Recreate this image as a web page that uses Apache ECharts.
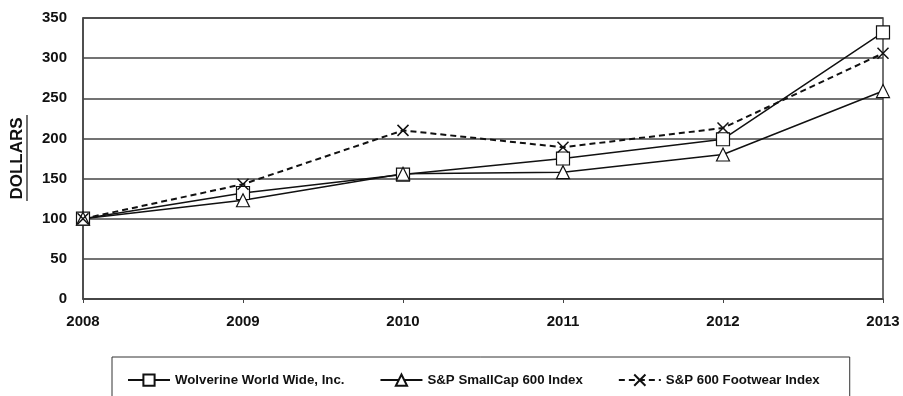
<!DOCTYPE html>
<html>
<head>
<meta charset="utf-8">
<script src="https://cdn.jsdelivr.net/npm/echarts@6/dist/echarts.min.js"></script>
<style>
html,body{margin:0;padding:0;background:#fff;}
#chart{width:903px;height:396px;}
</style>
</head>
<body>
<div id="chart"></div>
<script>
var years=['2008','2009','2010','2011','2012','2013'];
var wolverine=[100,132,155,175,199,332];
var smallCap=[100,123,156,158,180,259];
var footwear=[100,143,210,189,213,306];
var yTicks={min:0,max:350,interval:50};

var xPath='path://M0,0L10,10M10,0L0,10';
var font='Liberation Sans';

var chart=echarts.init(document.getElementById('chart'));
var option={
	animation:false,
	backgroundColor:'#fff',
	grid:{
		left:83,right:20,top:18,bottom:97,
		show:true,borderColor:'#444',borderWidth:1.5
	},
	legend:{
		left:112,top:357,
		padding:[15,30,10,15],
		borderColor:'#333',borderWidth:1,
		itemWidth:42,itemHeight:14,itemGap:35,
		textStyle:{fontFamily:font,fontWeight:'bold',fontSize:13.25,color:'#111'},
		data:['Wolverine World Wide, Inc.','S&P SmallCap 600 Index','S&P 600 Footwear Index']
	},
	xAxis:{
		type:'category',
		data:years,
		boundaryGap:false,
		axisLine:{lineStyle:{color:'#444',width:1.5}},
		axisTick:{show:true,length:4,lineStyle:{color:'#444'}},
		axisLabel:{fontFamily:font,fontWeight:'bold',fontSize:15,color:'#111',margin:15}
	},
	yAxis:{
		type:'value',
		min:yTicks.min,max:yTicks.max,interval:yTicks.interval,
		name:'DOLLARS',
		nameLocation:'middle',
		nameGap:57,
		nameTextStyle:{fontFamily:font,fontWeight:'bold',fontSize:17,color:'#111'},
		axisLine:{show:true,lineStyle:{color:'#444',width:1.5}},
		axisTick:{show:false},
		axisLabel:{fontFamily:font,fontWeight:'bold',fontSize:15,color:'#111',margin:16},
		splitLine:{lineStyle:{color:'#444',width:1.5}}
	},
	graphic:[{
		type:'line',
		shape:{x1:27,y1:115,x2:27,y2:201},
		style:{stroke:'#111',lineWidth:1.2}
	}],
	series:[{
		name:'Wolverine World Wide, Inc.',
		type:'line',
		data:wolverine,
		symbol:'rect',symbolSize:13,
		lineStyle:{color:'#111',width:1.5},
		itemStyle:{color:'#fff',borderColor:'#111',borderWidth:1.2}
	},{
		name:'S&P SmallCap 600 Index',
		type:'line',
		data:smallCap,
		symbol:'triangle',symbolSize:13,
		lineStyle:{color:'#111',width:1.5},
		itemStyle:{color:'#fff',borderColor:'#111',borderWidth:1.2}
	},{
		name:'S&P 600 Footwear Index',
		type:'line',
		data:footwear,
		symbol:xPath,symbolSize:11,
		lineStyle:{color:'#111',width:2,type:[6,4]},
		itemStyle:{color:'none',borderColor:'#111',borderWidth:1.5}
	}]
};
chart.setOption(option);
</script>
</body>
</html>
